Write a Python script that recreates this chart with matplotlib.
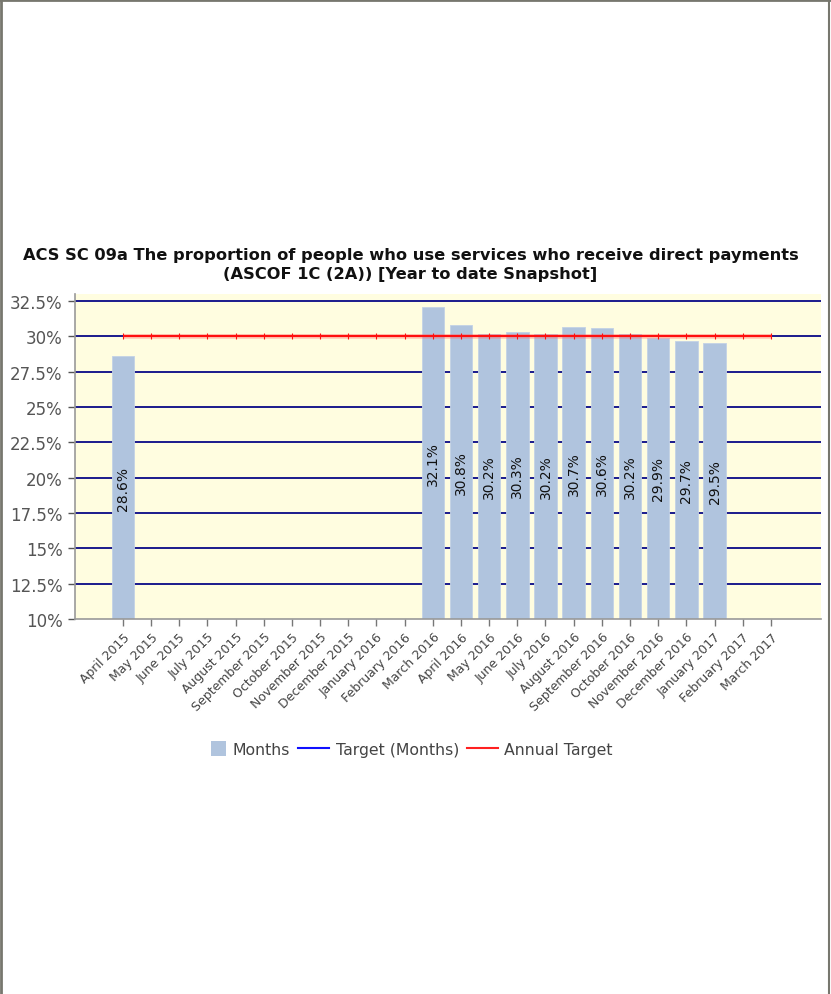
import numpy as np
import matplotlib
matplotlib.use("Agg")
import matplotlib.pyplot as plt
from matplotlib.lines import Line2D
from matplotlib.patches import Patch, Rectangle
from matplotlib.legend_handler import HandlerPatch

months = ["April 2015", "May 2015", "June 2015", "July 2015", "August 2015",
          "September 2015", "October 2015", "November 2015", "December 2015",
          "January 2016", "February 2016", "March 2016", "April 2016", "May 2016",
          "June 2016", "July 2016", "August 2016", "September 2016", "October 2016",
          "November 2016", "December 2016", "January 2017", "February 2017",
          "March 2017"]
# Year-to-date snapshot values (%), None where no figure was reported
monthly_values = [28.6, None, None, None, None, None, None, None, None, None, None,
                  32.1, 30.8, 30.2, 30.3, 30.2, 30.7, 30.6, 30.2, 29.9, 29.7, 29.5,
                  None, None]
annual_target = [30.0] * 24
y_ticks = [10, 12.5, 15, 17.5, 20, 22.5, 25, 27.5, 30, 32.5]

title = ("ACS SC 09a The proportion of people who use services who receive direct payments\n"
         "(ASCOF 1C (2A)) [Year to date Snapshot]")

W, H = 831, 995
fig = plt.figure(figsize=(W / 100, H / 100), dpi=100)
fig.patch.set_facecolor("white")

left, right, top, bottom = 75, 821, 295, 620
ax = fig.add_axes([left / W, 1 - bottom / H, (right - left) / W, (bottom - top) / H])
ax.set_facecolor("#FFFDE0")

ymin, ymax = 10, 33.0
ax.set_ylim(ymin, ymax)
ax.set_xlim(-1.70, 24.78)

x = np.arange(len(months))

# horizontal grid in navy, behind the bars
for yv in y_ticks[1:]:
    ax.axhline(yv, color="#1a1a8c", lw=1.4, zorder=1)

# bars from the bottom of the axis
bx = [i for i, v in enumerate(monthly_values) if v is not None]
bv = [monthly_values[i] for i in bx]
ax.bar(bx, [v - ymin for v in bv], bottom=ymin, width=0.8, color="#B0C4DE",
       edgecolor="#C3D2E6", linewidth=0.6, zorder=2)

for i, v in zip(bx, bv):
    ax.text(i, (ymin + v) / 2, f"{v:.1f}%", rotation=90, ha="center", va="center",
            fontsize=10, color="#111111", zorder=5)

# annual target line with a soft glow
ax.plot(x, annual_target, color="#ff6a6a", lw=3.5, alpha=0.3, zorder=3,
        solid_capstyle="butt")
ax.plot(x, annual_target, color="#ff1010", lw=1.6, zorder=4, marker="|",
        markersize=4, markeredgewidth=0.8, solid_capstyle="butt")

ax.set_yticks(y_ticks)
ax.set_yticklabels([f"{v:g}%" for v in y_ticks])
ax.set_xticks(x)
ax.set_xticklabels(months, rotation=45, ha="right", rotation_mode="anchor")

ax.tick_params(axis="y", colors="#555555", labelsize=12, length=5, width=1,
               labelcolor="#555555", pad=4)
ax.tick_params(axis="x", colors="#777777", labelsize=9, length=5, width=1,
               labelcolor="#444444", pad=3)

for s in ["top", "right"]:
    ax.spines[s].set_visible(False)
for s in ["left", "bottom"]:
    ax.spines[s].set_color("#999999")
    ax.spines[s].set_linewidth(1.2)

fig.text(0.494, 1 - 265 / H, title, ha="center", va="center", fontsize=11.7,
         fontweight="bold", color="#111111", linespacing=1.4)


def square_patch(legend, orig_handle, xdescent, ydescent, width, height, fontsize):
    s = height * 1.1
    return Rectangle((-xdescent + width - s, -ydescent + (height - s) / 2), s, s)


handles = [Patch(facecolor="#B0C4DE", edgecolor="none", label="Months"),
           Line2D([], [], color="#1010ff", lw=1.5, label="Target (Months)"),
           Line2D([], [], color="#ff2020", lw=1.5, label="Annual Target")]
fig.legend(handles=handles, loc="center", bbox_to_anchor=(404 / W, 1 - 750 / H),
           ncol=3, frameon=False, fontsize=11.3, labelcolor="#444444",
           handlelength=2.0, handleheight=1.0, handletextpad=0.4, columnspacing=0.5,
           handler_map={Patch: HandlerPatch(patch_func=square_patch)})

# outer frame of the panel
frame_c = "#77776e"
fig.add_artist(Line2D([1 / W, 1 / W], [0, 1], transform=fig.transFigure, color=frame_c, lw=2))
fig.add_artist(Line2D([0, 1], [1 - 1 / H, 1 - 1 / H], transform=fig.transFigure, color=frame_c, lw=2))
fig.add_artist(Line2D([1 - 2 / W, 1 - 2 / W], [0, 1], transform=fig.transFigure, color=frame_c, lw=1.5))

fig.savefig("out.png", dpi=100, facecolor="white")
